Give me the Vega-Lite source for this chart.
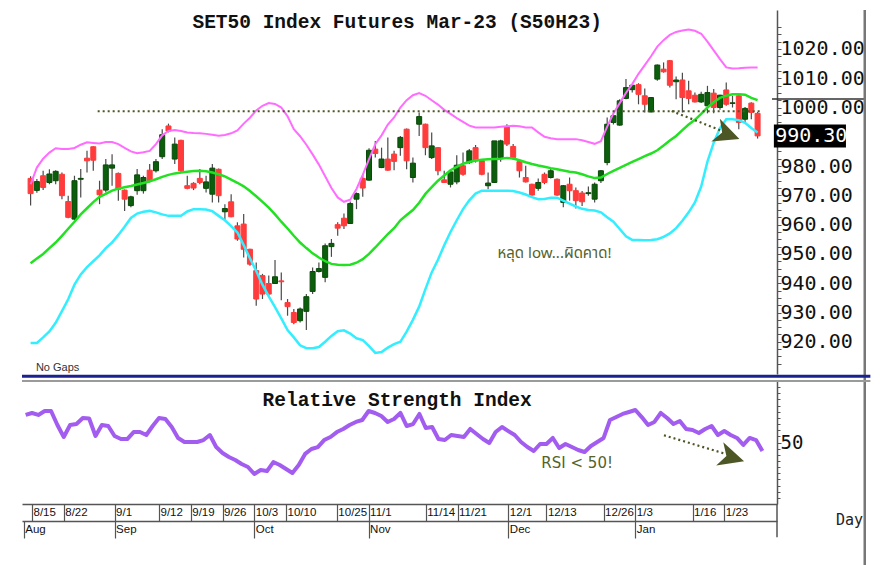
{
  "$schema": "https://vega.github.io/schema/vega-lite/v6.json",
  "background": "white",
  "padding": {"left": 20, "top": 8, "right": 5, "bottom": 5},
  "config": {"view": {"stroke": null}, "axis": {"grid": false}},
  "spacing": 7,
  "bounds": "flush",
  "data": {"values": [
{"d":"8/11","i":-1,"o":975.8,"h":976.5,"l":966.5,"c":970.6,"up":973.8,"mid":946.8,"lo":919.6,"rsi":72.4},
{"d":"8/15","i":0,"o":971.7,"h":975.6,"l":970.9,"c":974.7,"up":979.5,"mid":948.4,"lo":919.6,"rsi":74.0},
{"d":"8/16","i":1,"o":976.7,"h":978.4,"l":971.8,"c":972.7,"up":982.5,"mid":950.0,"lo":921.5,"rsi":72.4},
{"d":"8/17","i":2,"o":974.4,"h":978.9,"l":973.8,"c":977.3,"up":984.6,"mid":952.0,"lo":923.5,"rsi":75.6},
{"d":"8/18","i":3,"o":975.0,"h":978.6,"l":973.8,"c":978.2,"up":986.1,"mid":953.9,"lo":926.5,"rsi":75.6},
{"d":"8/19","i":4,"o":977.2,"h":977.8,"l":968.7,"c":969.9,"up":985.8,"mid":956.2,"lo":930.5,"rsi":64.2},
{"d":"8/22","i":5,"o":967.9,"h":969.9,"l":962.2,"c":962.5,"up":985.8,"mid":958.6,"lo":934.5,"rsi":54.5},
{"d":"8/23","i":6,"o":961.9,"h":976.7,"l":961.5,"c":975.0,"up":986.2,"mid":961.0,"lo":939.5,"rsi":64.2},
{"d":"8/24","i":7,"o":975.5,"h":979.0,"l":969.3,"c":975.8,"up":987.3,"mid":963.5,"lo":943.0,"rsi":65.0},
{"d":"8/25","i":8,"o":982.7,"h":985.2,"l":977.8,"c":981.8,"up":988.1,"mid":965.6,"lo":945.5,"rsi":69.9},
{"d":"8/26","i":9,"o":986.6,"h":986.8,"l":978.4,"c":982.0,"up":987.9,"mid":967.7,"lo":947.5,"rsi":69.5},
{"d":"8/29","i":10,"o":971.8,"h":975.0,"l":967.0,"c":970.2,"up":987.7,"mid":969.5,"lo":949.5,"rsi":55.3},
{"d":"8/30","i":11,"o":971.8,"h":982.4,"l":971.0,"c":980.4,"up":988.2,"mid":970.5,"lo":952.0,"rsi":64.2},
{"d":"8/31","i":12,"o":979.3,"h":984.0,"l":973.3,"c":980.4,"up":988.2,"mid":971.6,"lo":953.9,"rsi":63.4},
{"d":"9/1","i":13,"o":977.5,"h":977.8,"l":968.2,"c":972.1,"up":987.5,"mid":972.3,"lo":956.5,"rsi":55.3},
{"d":"9/2","i":14,"o":971.8,"h":972.0,"l":964.7,"c":968.7,"up":986.2,"mid":972.8,"lo":959.3,"rsi":52.8},
{"d":"9/5","i":15,"o":966.5,"h":969.9,"l":965.9,"c":969.5,"up":985.0,"mid":973.2,"lo":962.3,"rsi":52.8},
{"d":"9/6","i":16,"o":971.6,"h":979.0,"l":970.2,"c":977.0,"up":984.4,"mid":973.7,"lo":963.8,"rsi":58.5},
{"d":"9/7","i":17,"o":971.6,"h":976.7,"l":970.6,"c":976.1,"up":984.7,"mid":974.2,"lo":964.4,"rsi":58.5},
{"d":"9/8","i":18,"o":978.6,"h":980.7,"l":974.4,"c":975.0,"up":985.2,"mid":974.8,"lo":964.7,"rsi":56.1},
{"d":"9/9","i":19,"o":978.4,"h":982.4,"l":977.8,"c":981.5,"up":987.5,"mid":975.5,"lo":964.2,"rsi":63.4},
{"d":"9/12","i":20,"o":983.2,"h":992.6,"l":982.4,"c":990.7,"up":990.5,"mid":976.3,"lo":963.5,"rsi":69.9},
{"d":"9/13","i":21,"o":993.7,"h":994.5,"l":991.5,"c":992.0,"up":992.0,"mid":977.0,"lo":963.0,"rsi":69.1},
{"d":"9/14","i":22,"o":982.4,"h":989.8,"l":980.7,"c":987.5,"up":992.3,"mid":977.5,"lo":963.0,"rsi":62.6},
{"d":"9/15","i":23,"o":988.8,"h":989.0,"l":977.8,"c":978.4,"up":992.0,"mid":977.8,"lo":963.0,"rsi":53.7},
{"d":"9/16","i":24,"o":973.3,"h":976.7,"l":972.1,"c":972.4,"up":991.5,"mid":978.1,"lo":964.5,"rsi":50.4},
{"d":"9/19","i":25,"o":974.1,"h":974.5,"l":971.8,"c":972.5,"up":991.3,"mid":978.3,"lo":965.3,"rsi":50.4},
{"d":"9/20","i":26,"o":975.8,"h":979.0,"l":973.8,"c":974.4,"up":991.2,"mid":978.4,"lo":965.3,"rsi":50.4},
{"d":"9/21","i":27,"o":972.4,"h":976.7,"l":971.0,"c":974.6,"up":991.0,"mid":978.2,"lo":965.2,"rsi":52.0},
{"d":"9/22","i":28,"o":970.4,"h":980.7,"l":967.6,"c":979.3,"up":990.7,"mid":977.8,"lo":964.6,"rsi":56.1},
{"d":"9/23","i":29,"o":978.9,"h":979.2,"l":967.6,"c":969.9,"up":990.4,"mid":977.2,"lo":963.0,"rsi":46.3},
{"d":"9/26","i":30,"o":964.4,"h":967.0,"l":961.3,"c":965.5,"up":990.6,"mid":976.5,"lo":961.5,"rsi":41.5},
{"d":"9/27","i":31,"o":967.8,"h":970.4,"l":962.5,"c":962.7,"up":991.2,"mid":975.4,"lo":959.5,"rsi":38.2},
{"d":"9/28","i":32,"o":959.6,"h":960.8,"l":954.5,"c":955.1,"up":992.2,"mid":974.3,"lo":957.3,"rsi":35.8},
{"d":"9/29","i":33,"o":960.2,"h":963.6,"l":948.8,"c":951.6,"up":994.5,"mid":973.1,"lo":953.0,"rsi":32.5},
{"d":"9/30","i":34,"o":951.6,"h":951.8,"l":946.0,"c":946.5,"up":996.5,"mid":971.5,"lo":948.5,"rsi":30.1},
{"d":"10/3","i":35,"o":944.3,"h":947.1,"l":932.3,"c":934.6,"up":999.0,"mid":969.7,"lo":944.2,"rsi":24.4},
{"d":"10/4","i":36,"o":942.6,"h":943.2,"l":934.6,"c":936.3,"up":1000.6,"mid":967.8,"lo":939.5,"rsi":27.6},
{"d":"10/5","i":37,"o":939.9,"h":942.6,"l":935.7,"c":936.3,"up":1001.5,"mid":965.8,"lo":935.5,"rsi":26.8},
{"d":"10/6","i":38,"o":939.9,"h":947.9,"l":939.7,"c":942.2,"up":1001.2,"mid":963.5,"lo":931.8,"rsi":34.1},
{"d":"10/7","i":39,"o":940.8,"h":943.7,"l":934.2,"c":940.5,"up":1000.0,"mid":961.0,"lo":928.0,"rsi":31.7},
{"d":"10/10","i":40,"o":933.4,"h":934.6,"l":928.9,"c":932.0,"up":997.0,"mid":958.7,"lo":924.0,"rsi":28.5},
{"d":"10/11","i":41,"o":930.0,"h":931.2,"l":926.0,"c":926.6,"up":992.6,"mid":956.2,"lo":921.5,"rsi":25.2},
{"d":"10/12","i":42,"o":927.2,"h":931.7,"l":926.6,"c":931.2,"up":990.2,"mid":953.9,"lo":918.8,"rsi":31.7},
{"d":"10/17","i":43,"o":930.4,"h":936.3,"l":924.0,"c":935.4,"up":987.3,"mid":952.0,"lo":917.8,"rsi":40.7},
{"d":"10/18","i":44,"o":937.2,"h":945.4,"l":936.3,"c":944.0,"up":984.0,"mid":950.2,"lo":917.8,"rsi":44.7},
{"d":"10/19","i":45,"o":944.0,"h":947.1,"l":943.7,"c":945.0,"up":980.5,"mid":948.8,"lo":918.2,"rsi":46.3},
{"d":"10/20","i":46,"o":942.0,"h":953.6,"l":940.3,"c":952.8,"up":976.5,"mid":947.5,"lo":920.0,"rsi":52.0},
{"d":"10/21","i":47,"o":952.5,"h":955.1,"l":949.0,"c":953.6,"up":972.5,"mid":946.6,"lo":922.0,"rsi":54.5},
{"d":"10/25","i":48,"o":960.0,"h":960.8,"l":956.2,"c":958.8,"up":969.3,"mid":946.3,"lo":923.6,"rsi":58.5},
{"d":"10/26","i":49,"o":962.2,"h":963.8,"l":958.5,"c":959.6,"up":967.8,"mid":946.2,"lo":923.9,"rsi":61.0},
{"d":"10/27","i":50,"o":960.4,"h":967.9,"l":960.2,"c":967.2,"up":968.5,"mid":946.3,"lo":922.8,"rsi":64.2},
{"d":"10/28","i":51,"o":968.7,"h":971.0,"l":965.3,"c":970.6,"up":972.2,"mid":947.0,"lo":921.2,"rsi":66.7},
{"d":"10/31","i":52,"o":975.8,"h":977.2,"l":969.5,"c":972.5,"up":977.0,"mid":948.2,"lo":920.6,"rsi":68.3},
{"d":"11/1","i":53,"o":975.2,"h":986.1,"l":975.0,"c":985.4,"up":982.4,"mid":950.0,"lo":918.5,"rsi":75.6},
{"d":"11/2","i":54,"o":985.8,"h":988.6,"l":982.9,"c":984.3,"up":987.5,"mid":952.2,"lo":916.2,"rsi":74.0},
{"d":"11/3","i":55,"o":979.5,"h":986.3,"l":979.3,"c":982.4,"up":990.5,"mid":954.5,"lo":916.5,"rsi":71.5},
{"d":"11/4","i":56,"o":982.4,"h":989.8,"l":978.4,"c":978.6,"up":994.2,"mid":956.8,"lo":918.0,"rsi":66.7},
{"d":"11/7","i":57,"o":984.1,"h":985.2,"l":978.6,"c":981.6,"up":996.6,"mid":958.8,"lo":919.2,"rsi":69.1},
{"d":"11/8","i":58,"o":986.3,"h":990.3,"l":983.5,"c":989.8,"up":1000.0,"mid":961.5,"lo":920.0,"rsi":74.0},
{"d":"11/9","i":59,"o":992.6,"h":992.8,"l":978.9,"c":981.8,"up":1002.5,"mid":963.3,"lo":923.5,"rsi":63.4},
{"d":"11/10","i":60,"o":976.1,"h":982.9,"l":974.4,"c":981.0,"up":1004.2,"mid":965.0,"lo":927.5,"rsi":65.0},
{"d":"11/11","i":61,"o":994.3,"h":998.3,"l":990.3,"c":996.9,"up":1004.9,"mid":967.5,"lo":932.0,"rsi":73.2},
{"d":"11/14","i":62,"o":994.3,"h":994.5,"l":983.7,"c":986.3,"up":1004.0,"mid":970.5,"lo":938.0,"rsi":61.8},
{"d":"11/15","i":63,"o":982.9,"h":991.5,"l":982.4,"c":986.9,"up":1002.5,"mid":972.8,"lo":943.7,"rsi":62.6},
{"d":"11/16","i":64,"o":986.3,"h":986.5,"l":976.9,"c":978.4,"up":1001.0,"mid":975.0,"lo":948.0,"rsi":52.8},
{"d":"11/17","i":65,"o":975.3,"h":978.4,"l":974.2,"c":974.4,"up":999.2,"mid":976.8,"lo":953.0,"rsi":52.0},
{"d":"11/18","i":66,"o":973.8,"h":978.4,"l":972.7,"c":978.0,"up":997.8,"mid":978.6,"lo":957.5,"rsi":56.1},
{"d":"11/21","i":67,"o":974.6,"h":983.7,"l":973.8,"c":980.3,"up":996.4,"mid":979.7,"lo":961.5,"rsi":55.3},
{"d":"11/22","i":68,"o":980.1,"h":984.6,"l":976.7,"c":977.2,"up":995.1,"mid":980.8,"lo":965.3,"rsi":54.5},
{"d":"11/23","i":69,"o":981.2,"h":985.8,"l":980.7,"c":985.2,"up":993.8,"mid":981.4,"lo":968.3,"rsi":61.0},
{"d":"11/24","i":70,"o":986.3,"h":987.2,"l":981.2,"c":981.8,"up":993.2,"mid":981.9,"lo":970.6,"rsi":56.9},
{"d":"11/25","i":71,"o":981.8,"h":982.0,"l":976.9,"c":977.2,"up":993.2,"mid":982.2,"lo":971.6,"rsi":52.8},
{"d":"11/28","i":72,"o":973.3,"h":977.8,"l":972.1,"c":974.2,"up":993.2,"mid":982.3,"lo":971.6,"rsi":49.6},
{"d":"11/29","i":73,"o":974.4,"h":988.6,"l":974.2,"c":988.6,"up":993.2,"mid":982.4,"lo":971.6,"rsi":58.5},
{"d":"11/30","i":74,"o":982.9,"h":989.0,"l":981.5,"c":988.6,"up":993.4,"mid":982.5,"lo":971.6,"rsi":62.6},
{"d":"12/1","i":75,"o":993.5,"h":994.3,"l":986.9,"c":987.5,"up":993.6,"mid":982.8,"lo":971.6,"rsi":59.3},
{"d":"12/2","i":76,"o":986.7,"h":987.5,"l":982.2,"c":982.9,"up":993.8,"mid":982.6,"lo":971.5,"rsi":56.1},
{"d":"12/6","i":77,"o":981.5,"h":982.4,"l":976.1,"c":978.4,"up":993.6,"mid":982.0,"lo":971.0,"rsi":50.4},
{"d":"12/7","i":78,"o":976.1,"h":980.1,"l":974.4,"c":974.6,"up":993.2,"mid":981.3,"lo":970.3,"rsi":46.3},
{"d":"12/8","i":79,"o":973.8,"h":974.0,"l":969.9,"c":970.1,"up":993.2,"mid":980.7,"lo":969.4,"rsi":43.1},
{"d":"12/9","i":80,"o":972.4,"h":975.8,"l":971.6,"c":974.4,"up":991.5,"mid":980.2,"lo":968.7,"rsi":48.8},
{"d":"12/13","i":81,"o":977.2,"h":977.8,"l":973.8,"c":974.4,"up":990.0,"mid":979.8,"lo":968.8,"rsi":48.8},
{"d":"12/14","i":82,"o":976.1,"h":979.2,"l":975.8,"c":978.4,"up":989.5,"mid":979.3,"lo":969.2,"rsi":53.7},
{"d":"12/15","i":83,"o":975.5,"h":975.8,"l":969.9,"c":970.1,"up":989.2,"mid":978.9,"lo":969.2,"rsi":45.5},
{"d":"12/16","i":84,"o":967.6,"h":973.5,"l":965.9,"c":973.3,"up":989.2,"mid":978.5,"lo":968.2,"rsi":48.8},
{"d":"12/19","i":85,"o":973.8,"h":976.1,"l":968.2,"c":971.6,"up":989.2,"mid":978.1,"lo":967.2,"rsi":46.3},
{"d":"12/20","i":86,"o":971.6,"h":972.7,"l":965.5,"c":968.2,"up":989.2,"mid":977.8,"lo":966.2,"rsi":43.9},
{"d":"12/21","i":87,"o":970.8,"h":971.5,"l":966.4,"c":967.8,"up":988.8,"mid":977.2,"lo":965.4,"rsi":42.3},
{"d":"12/22","i":88,"o":970.6,"h":973.0,"l":969.9,"c":970.9,"up":988.2,"mid":976.5,"lo":965.0,"rsi":47.2},
{"d":"12/23","i":89,"o":968.7,"h":974.4,"l":967.6,"c":973.8,"up":987.6,"mid":975.9,"lo":964.8,"rsi":50.4},
{"d":"12/26","i":90,"o":975.0,"h":978.7,"l":974.2,"c":978.4,"up":988.5,"mid":976.1,"lo":964.2,"rsi":53.7},
{"d":"12/27","i":91,"o":981.2,"h":996.6,"l":980.3,"c":994.3,"up":993.5,"mid":977.3,"lo":962.5,"rsi":68.3},
{"d":"12/28","i":92,"o":994.9,"h":998.9,"l":994.2,"c":997.2,"up":998.0,"mid":978.4,"lo":961.0,"rsi":70.7},
{"d":"12/29","i":93,"o":994.0,"h":1002.8,"l":993.8,"c":1002.3,"up":1001.5,"mid":979.4,"lo":958.5,"rsi":73.2},
{"d":"12/30","i":94,"o":1003.1,"h":1009.7,"l":1002.8,"c":1006.8,"up":1005.0,"mid":980.4,"lo":956.0,"rsi":74.8},
{"d":"1/3","i":95,"o":1006.1,"h":1008.0,"l":1005.1,"c":1007.6,"up":1008.0,"mid":981.4,"lo":954.8,"rsi":76.4},
{"d":"1/4","i":96,"o":1007.8,"h":1008.3,"l":1001.1,"c":1004.5,"up":1011.5,"mid":982.4,"lo":954.8,"rsi":70.7},
{"d":"1/5","i":97,"o":1004.0,"h":1006.5,"l":998.3,"c":1001.1,"up":1014.5,"mid":983.4,"lo":954.7,"rsi":64.2},
{"d":"1/6","i":98,"o":998.5,"h":1003.6,"l":998.3,"c":1003.4,"up":1017.5,"mid":984.3,"lo":954.8,"rsi":66.7},
{"d":"1/9","i":99,"o":1009.7,"h":1014.7,"l":1009.1,"c":1014.5,"up":1020.8,"mid":985.4,"lo":955.0,"rsi":74.0},
{"d":"1/10","i":100,"o":1013.1,"h":1015.4,"l":1011.9,"c":1012.2,"up":1023.0,"mid":987.0,"lo":955.8,"rsi":69.9},
{"d":"1/11","i":101,"o":1016.0,"h":1016.2,"l":1006.8,"c":1007.6,"up":1024.8,"mid":988.7,"lo":957.0,"rsi":65.0},
{"d":"1/12","i":102,"o":1008.8,"h":1010.6,"l":1002.8,"c":1009.4,"up":1025.8,"mid":990.3,"lo":958.8,"rsi":67.5},
{"d":"1/13","i":103,"o":1009.4,"h":1011.9,"l":998.3,"c":1003.4,"up":1026.3,"mid":992.3,"lo":961.3,"rsi":61.0},
{"d":"1/16","i":104,"o":1005.7,"h":1009.1,"l":1001.1,"c":1003.1,"up":1026.6,"mid":994.2,"lo":964.2,"rsi":60.2},
{"d":"1/17","i":105,"o":1004.2,"h":1005.1,"l":1001.7,"c":1001.9,"up":1026.2,"mid":995.8,"lo":967.6,"rsi":57.7},
{"d":"1/18","i":106,"o":1001.9,"h":1005.4,"l":1001.5,"c":1004.5,"up":1025.2,"mid":997.8,"lo":973.0,"rsi":61.0},
{"d":"1/19","i":107,"o":1000.6,"h":1007.4,"l":998.0,"c":1005.1,"up":1022.5,"mid":1000.0,"lo":981.5,"rsi":63.4},
{"d":"1/20","i":108,"o":1004.9,"h":1006.3,"l":998.0,"c":1000.0,"up":1019.5,"mid":1001.8,"lo":988.0,"rsi":56.1},
{"d":"1/23","i":109,"o":1000.0,"h":1004.4,"l":999.2,"c":1004.2,"up":1016.5,"mid":1003.3,"lo":993.0,"rsi":59.3},
{"d":"1/24","i":110,"o":1006.0,"h":1008.5,"l":1000.6,"c":1001.1,"up":1013.7,"mid":1004.0,"lo":996.0,"rsi":56.1},
{"d":"1/25","i":111,"o":1001.4,"h":1004.0,"l":1000.0,"c":1001.6,"up":1013.3,"mid":1004.5,"lo":996.0,"rsi":53.7},
{"d":"1/26","i":112,"o":1004.0,"h":1004.2,"l":992.6,"c":994.9,"up":1013.4,"mid":1004.5,"lo":995.7,"rsi":48.0},
{"d":"1/27","i":113,"o":996.0,"h":1000.2,"l":994.9,"c":999.7,"up":1013.6,"mid":1004.4,"lo":994.8,"rsi":53.7},
{"d":"1/30","i":114,"o":1001.5,"h":1001.8,"l":996.0,"c":998.3,"up":1013.7,"mid":1003.3,"lo":993.0,"rsi":52.0},
{"d":"1/31","i":115,"o":998.0,"h":998.5,"l":989.4,"c":990.3,"up":1013.7,"mid":1002.5,"lo":991.5,"rsi":43.1}
  ]},
  "vconcat": [
    {
      "width": 755,
      "height": 364,
      "resolve": {"axis": {"x": "independent", "y": "independent"}},
      "layer": [
        {
          "mark": {"type": "rule", "color": "#4a4a4a", "strokeWidth": 1.2},
          "encoding": {
            "x": {"field": "i", "type": "quantitative", "scale": {"domain": [-1.575, 117.3], "nice": false, "zero": false}, "axis": null},
            "y": {"field": "l", "type": "quantitative", "scale": {"domain": [909, 1033.3], "nice": false, "zero": false},
              "axis": {"orient": "right", "title": null, "grid": false,
                "values": [912.5,915,917.5,920,922.5,925,927.5,930,932.5,935,937.5,940,942.5,945,947.5,950,952.5,955,957.5,960,962.5,965,967.5,970,972.5,975,977.5,980,982.5,985,987.5,990,992.5,995,997.5,1000,1002.5,1005,1007.5,1010,1012.5,1015,1017.5,1020,1022.5,1025,1027.5],
                "labelExpr": "(datum.value % 10 == 0 && datum.value != 990) ? format(datum.value, '.2f') : ''",
                "domain": true, "domainColor": "#555", "domainWidth": 1.5, "ticks": true, "tickColor": "#555", "tickSize": 4, "tickWidth": 1,
                "labels": true, "labelFont": "DejaVu Sans Mono", "labelFontSize": 20, "labelColor": "#111", "labelPadding": -1,
                "labelOverlap": false, "labelFlush": false, "labelBound": false}},
            "y2": {"field": "h"}
          }
        },
        {
          "mark": {"type": "bar", "size": 5, "strokeWidth": 1},
          "encoding": {
            "x": {"field": "i", "type": "quantitative", "scale": {"domain": [-1.575, 117.3], "nice": false, "zero": false}, "axis": null},
            "y": {"field": "o", "type": "quantitative", "scale": {"domain": [909, 1033.3], "nice": false, "zero": false}, "axis": null},
            "y2": {"field": "c"},
            "color": {"condition": {"test": "datum.c >= datum.o", "value": "#0b5e0b"}, "value": "#ff3b3b"},
            "stroke": {"condition": {"test": "datum.c >= datum.o", "value": "#0a480a"}, "value": "#ff3b3b"}
          }
        },
        {
          "mark": {"type": "line", "color": "#ff6cff", "strokeWidth": 2},
          "encoding": {
            "x": {"field": "i", "type": "quantitative", "scale": {"domain": [-1.575, 117.3], "nice": false, "zero": false}, "axis": null},
            "y": {"field": "up", "type": "quantitative", "scale": {"domain": [909, 1033.3], "nice": false, "zero": false}, "axis": null}
          }
        },
        {
          "mark": {"type": "line", "color": "#22e022", "strokeWidth": 2.5},
          "encoding": {
            "x": {"field": "i", "type": "quantitative", "scale": {"domain": [-1.575, 117.3], "nice": false, "zero": false}, "axis": null},
            "y": {"field": "mid", "type": "quantitative", "scale": {"domain": [909, 1033.3], "nice": false, "zero": false}, "axis": null}
          }
        },
        {
          "mark": {"type": "line", "color": "#33eeff", "strokeWidth": 2.5},
          "encoding": {
            "x": {"field": "i", "type": "quantitative", "scale": {"domain": [-1.575, 117.3], "nice": false, "zero": false}, "axis": null},
            "y": {"field": "lo", "type": "quantitative", "scale": {"domain": [909, 1033.3], "nice": false, "zero": false}, "axis": null}
          }
        },
        {
          "data": {"values": [{}]},
          "mark": {"type": "rule", "color": "#4d5726", "strokeWidth": 2, "strokeDash": [2, 3]},
          "encoding": {
            "x": {"datum": 9.7, "type": "quantitative", "scale": {"domain": [-1.575, 117.3], "nice": false, "zero": false}, "axis": null},
            "x2": {"datum": 115.4},
            "y": {"datum": 998.7, "type": "quantitative", "scale": {"domain": [909, 1033.3], "nice": false, "zero": false}, "axis": null}
          }
        },
        {
          "data": {"values": [{}]},
          "mark": {"type": "rule", "color": "#4d5726", "strokeWidth": 2.2, "strokeDash": [2, 3]},
          "encoding": {
            "x": {"datum": 101.3, "type": "quantitative", "scale": {"domain": [-1.575, 117.3], "nice": false, "zero": false}, "axis": null},
            "x2": {"datum": 109.8},
            "y": {"datum": 998.8, "type": "quantitative", "scale": {"domain": [909, 1033.3], "nice": false, "zero": false}, "axis": null},
            "y2": {"datum": 991.6}
          }
        },
        {
          "data": {"values": [{}]},
          "mark": {"type": "point", "shape": "M1,0 L-1,-0.95 L-0.45,0 L-1,0.95 Z", "filled": true, "color": "#4d5726", "opacity": 1, "size": 650, "angle": 20.6},
          "encoding": {
            "x": {"datum": 110.2, "type": "quantitative", "scale": {"domain": [-1.575, 117.3], "nice": false, "zero": false}, "axis": null},
            "y": {"datum": 990.75, "type": "quantitative", "scale": {"domain": [909, 1033.3], "nice": false, "zero": false}, "axis": null}
          }
        },
        {
          "data": {"values": [{}]},
          "mark": {"type": "text", "text": "SET50 Index Futures Mar-23 (S50H23)", "font": "Liberation Mono", "fontWeight": "bold", "fontSize": 19.5, "color": "#111", "align": "center", "baseline": "middle"},
          "encoding": {
            "x": {"datum": 57.5, "type": "quantitative", "scale": {"domain": [-1.575, 117.3], "nice": false, "zero": false}, "axis": null},
            "y": {"datum": 1029.2, "type": "quantitative", "scale": {"domain": [909, 1033.3], "nice": false, "zero": false}, "axis": null}
          }
        },
        {
          "data": {"values": [{}]},
          "mark": {"type": "text", "text": "หลุด low...ผิดคาด!", "font": "Tahoma, 'Noto Sans Thai', 'Noto Sans', sans-serif", "fontSize": 15, "color": "#55622a", "align": "left", "baseline": "middle"},
          "encoding": {
            "x": {"datum": 73.5, "type": "quantitative", "scale": {"domain": [-1.575, 117.3], "nice": false, "zero": false}, "axis": null},
            "y": {"datum": 950.3, "type": "quantitative", "scale": {"domain": [909, 1033.3], "nice": false, "zero": false}, "axis": null}
          }
        },
        {
          "data": {"values": [{}]},
          "mark": {"type": "text", "text": "No  Gaps", "font": "Liberation Sans", "fontSize": 11, "color": "#333", "align": "left", "baseline": "middle"},
          "encoding": {
            "x": {"datum": -0.15, "type": "quantitative", "scale": {"domain": [-1.575, 117.3], "nice": false, "zero": false}, "axis": null},
            "y": {"datum": 911.1, "type": "quantitative", "scale": {"domain": [909, 1033.3], "nice": false, "zero": false}, "axis": null}
          }
        },
        {
          "data": {"values": [{}]},
          "mark": {"type": "rule", "color": "#000", "strokeWidth": 23},
          "encoding": {
            "x": {"datum": 117.6, "type": "quantitative", "scale": {"domain": [-1.575, 117.3], "nice": false, "zero": false}, "axis": null},
            "x2": {"datum": 129.1},
            "y": {"datum": 990.3, "type": "quantitative", "scale": {"domain": [909, 1033.3], "nice": false, "zero": false}, "axis": null}
          }
        },
        {
          "data": {"values": [{}]},
          "mark": {"type": "text", "text": "990.30", "font": "DejaVu Sans Mono", "fontSize": 20, "color": "#fff", "align": "left", "baseline": "middle"},
          "encoding": {
            "x": {"datum": 117.8, "type": "quantitative", "scale": {"domain": [-1.575, 117.3], "nice": false, "zero": false}, "axis": null},
            "y": {"datum": 990.3, "type": "quantitative", "scale": {"domain": [909, 1033.3], "nice": false, "zero": false}, "axis": null}
          }
        },
        {
          "data": {"values": [{}]},
          "mark": {"type": "rule", "color": "#333", "strokeWidth": 1.5},
          "encoding": {
            "x": {"datum": 117.3, "type": "quantitative", "scale": {"domain": [-1.575, 117.3], "nice": false, "zero": false}, "axis": null},
            "x2": {"datum": 132},
            "y": {"datum": 1002.9, "type": "quantitative", "scale": {"domain": [909, 1033.3], "nice": false, "zero": false}, "axis": null}
          }
        },
        {
          "data": {"values": [{}]},
          "mark": {"type": "rule", "color": "#777", "strokeWidth": 2.5},
          "encoding": {
            "x": {"datum": 132.1, "type": "quantitative", "scale": {"domain": [-1.575, 117.3], "nice": false, "zero": false}, "axis": null},
            "y": {"datum": 1033.3, "type": "quantitative", "scale": {"domain": [909, 1033.3], "nice": false, "zero": false}, "axis": null},
            "y2": {"datum": 843}
          }
        }
      ]
    },
    {
      "width": 755,
      "height": 123,
      "resolve": {"axis": {"x": "independent", "y": "independent"}},
      "layer": [
        {
          "mark": {"type": "line", "color": "#a35cf0", "strokeWidth": 4, "strokeJoin": "round"},
          "encoding": {
            "x": {"field": "i", "type": "quantitative", "scale": {"domain": [-1.575, 117.3], "nice": false, "zero": false},
              "axis": {"orient": "bottom",
                "values": [0,5,13,20,25,30,35,40,48,53,62,67,75,81,90,95,104,109],
                "labelExpr": "['8/15','8/22','9/1','9/12','9/19','9/26','10/3','10/10','10/25','11/1','11/14','11/21','12/1','12/13','12/26','1/3','1/16','1/23'][indexof([0,5,13,20,25,30,35,40,48,53,62,67,75,81,90,95,104,109], datum.value)]",
                "title": "Day", "titleX": 827, "titleY": 15, "titleAlign": "center", "titleBaseline": "middle",
                "titleFont": "DejaVu Sans Mono", "titleFontSize": 15, "titleFontWeight": "normal", "titleColor": "#222",
                "grid": false, "domainColor": "#555", "domainWidth": 1.5, "tickColor": "#555", "tickWidth": 1.2, "tickSize": 17,
                "labelAlign": "left", "labelBaseline": "top", "labelPadding": -15, "labelOffset": 1,
                "labelFont": "Liberation Sans", "labelFontSize": 11.5, "labelColor": "#111",
                "labelOverlap": false, "labelFlush": false, "labelBound": false}},
            "y": {"field": "rsi", "type": "quantitative", "scale": {"domain": [0, 100], "nice": false, "zero": false},
              "axis": {"orient": "right", "values": [50], "title": null, "grid": false,
                "domainColor": "#555", "domainWidth": 1.5, "tickColor": "#555", "tickSize": 4,
                "labelFont": "DejaVu Sans Mono", "labelFontSize": 19, "labelColor": "#111", "labelPadding": -1}}
          }
        },
        {
          "mark": {"type": "point", "opacity": 0},
          "encoding": {
            "x": {"field": "i", "type": "quantitative", "scale": {"domain": [-1.575, 117.3], "nice": false, "zero": false},
              "axis": {"orient": "bottom", "offset": 17, "values": [-1.3, 13, 35, 53, 75, 95],
                "labelExpr": "datum.value < 0 ? 'Aug' : datum.value == 13 ? 'Sep' : datum.value == 35 ? 'Oct' : datum.value == 53 ? 'Nov' : datum.value == 75 ? 'Dec' : 'Jan'",
                "title": null, "grid": false, "domainColor": "#555", "domainWidth": 1.5, "tickColor": "#555", "tickWidth": 1.2, "tickSize": 17,
                "labelAlign": "left", "labelBaseline": "top", "labelPadding": -15, "labelOffset": 1,
                "labelFont": "Liberation Sans", "labelFontSize": 11.5, "labelColor": "#111",
                "labelOverlap": false, "labelFlush": false, "labelBound": false}},
            "y": {"field": "rsi", "type": "quantitative", "scale": {"domain": [0, 100], "nice": false, "zero": false},
              "axis": {"orient": "right", "values": [5,10,15,20,25,30,35,40,45,55,60,65,70,75,80,85,90,95], "labels": false, "title": null, "grid": false,
                "domain": false, "tickColor": "#555", "tickSize": 3}}
          }
        },
        {
          "data": {"values": [{}]},
          "mark": {"type": "text", "text": "Relative Strength Index", "font": "Liberation Mono", "fontWeight": "bold", "fontSize": 19.5, "color": "#111", "align": "center", "baseline": "middle"},
          "encoding": {
            "x": {"datum": 57.5, "type": "quantitative", "scale": {"domain": [-1.575, 117.3], "nice": false, "zero": false}, "axis": null},
            "y": {"datum": 84.6, "type": "quantitative", "scale": {"domain": [0, 100], "nice": false, "zero": false}, "axis": null}
          }
        },
        {
          "data": {"values": [{}]},
          "mark": {"type": "text", "text": "RSI < 50!", "font": "Tahoma, 'DejaVu Sans', sans-serif", "fontSize": 15, "color": "#55622a", "align": "left", "baseline": "middle"},
          "encoding": {
            "x": {"datum": 80.2, "type": "quantitative", "scale": {"domain": [-1.575, 117.3], "nice": false, "zero": false}, "axis": null},
            "y": {"datum": 33.5, "type": "quantitative", "scale": {"domain": [0, 100], "nice": false, "zero": false}, "axis": null}
          }
        },
        {
          "data": {"values": [{}]},
          "mark": {"type": "rule", "color": "#4d5726", "strokeWidth": 2.2, "strokeDash": [2, 3]},
          "encoding": {
            "x": {"datum": 99.5, "type": "quantitative", "scale": {"domain": [-1.575, 117.3], "nice": false, "zero": false}, "axis": null},
            "x2": {"datum": 109.1},
            "y": {"datum": 55.9, "type": "quantitative", "scale": {"domain": [0, 100], "nice": false, "zero": false}, "axis": null},
            "y2": {"datum": 40.9}
          }
        },
        {
          "data": {"values": [{}]},
          "mark": {"type": "point", "shape": "M1,0 L-1,-0.95 L-0.45,0 L-1,0.95 Z", "filled": true, "color": "#4d5726", "opacity": 1, "size": 650, "angle": 17},
          "encoding": {
            "x": {"datum": 110.2, "type": "quantitative", "scale": {"domain": [-1.575, 117.3], "nice": false, "zero": false}, "axis": null},
            "y": {"datum": 37.7, "type": "quantitative", "scale": {"domain": [0, 100], "nice": false, "zero": false}, "axis": null}
          }
        },
        {
          "data": {"values": [{}]},
          "mark": {"type": "rule", "color": "#9a9a9a", "strokeWidth": 2},
          "encoding": {
            "x": {"datum": -1.575, "type": "quantitative", "scale": {"domain": [-1.575, 117.3], "nice": false, "zero": false}, "axis": null},
            "x2": {"datum": 132},
            "y": {"datum": 100, "type": "quantitative", "scale": {"domain": [0, 100], "nice": false, "zero": false}, "axis": null}
          }
        },
        {
          "data": {"values": [{}]},
          "mark": {"type": "rule", "color": "#1c2190", "strokeWidth": 3},
          "encoding": {
            "x": {"datum": -1.575, "type": "quantitative", "scale": {"domain": [-1.575, 117.3], "nice": false, "zero": false}, "axis": null},
            "x2": {"datum": 132},
            "y": {"datum": 103.8, "type": "quantitative", "scale": {"domain": [0, 100], "nice": false, "zero": false}, "axis": null}
          }
        },
        {
          "data": {"values": [{}]},
          "mark": {"type": "rule", "color": "#555", "strokeWidth": 1.5},
          "encoding": {
            "x": {"datum": 117.3, "type": "quantitative", "scale": {"domain": [-1.575, 117.3], "nice": false, "zero": false}, "axis": null},
            "y": {"datum": 0, "type": "quantitative", "scale": {"domain": [0, 100], "nice": false, "zero": false}, "axis": null},
            "y2": {"datum": -27}
          }
        }
      ]
    }
  ]
}
